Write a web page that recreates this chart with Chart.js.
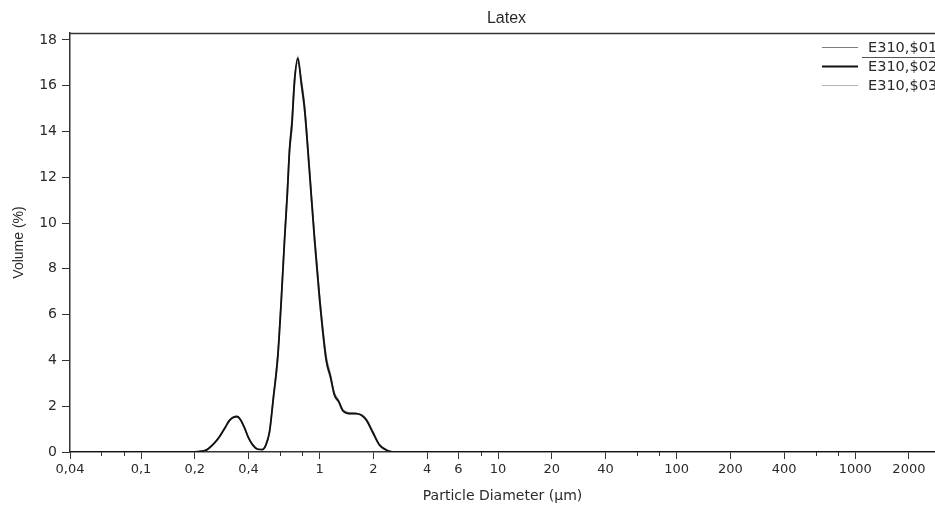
<!DOCTYPE html>
<html><head><meta charset="utf-8">
<style>html,body{margin:0;padding:0;background:#fff;overflow:hidden}#wrap{width:935px;height:505px;position:relative}</style>
<script src="https://cdn.jsdelivr.net/npm/chart.js@4/dist/chart.umd.min.js"></script>
</head><body><div id="wrap"><canvas id="c" width="935" height="505"></canvas></div>
<script>
const chartTitle = 'Latex';
const xAxisTitle = 'Particle Diameter (µm)';
const yAxisTitle = 'Volume (%)';
const seriesNames = ['E310,$01', 'E310,$02', 'E310,$03'];

const diameters = [0.04, 0.19, 0.21, 0.232, 0.255, 0.275, 0.295, 0.313, 0.33, 0.345, 0.36, 0.38, 0.40, 0.423, 0.45, 0.477, 0.50, 0.525, 0.55, 0.584, 0.61, 0.637, 0.66, 0.679, 0.70, 0.724, 0.756, 0.79, 0.824, 0.879, 0.937, 1.0, 1.09, 1.15, 1.21, 1.28, 1.35, 1.47, 1.6, 1.71, 1.83, 1.99, 2.17, 2.35, 2.5, 2.6, 2800];
const volume01 = [0, 0, 0.03, 0.1, 0.38, 0.7, 1.08, 1.4, 1.55, 1.56, 1.4, 1.02, 0.6, 0.28, 0.13, 0.12, 0.33, 0.95, 2.4, 4.4, 6.8, 9.5, 11.6, 13.4, 14.6, 16.4, 17.0, 16.3, 15.2, 12.4, 9.5, 6.9, 4.2, 3.4, 2.6, 2.25, 1.85, 1.72, 1.7, 1.6, 1.36, 0.8, 0.28, 0.09, 0.02, 0, 0];
const volume02 = [0, 0, 0.02, 0.08, 0.35, 0.67, 1.05, 1.38, 1.52, 1.55, 1.42, 1.05, 0.62, 0.3, 0.12, 0.1, 0.3, 0.9, 2.3, 4.2, 6.6, 9.3, 11.3, 13.2, 14.3, 16.2, 17.2, 16.1, 15.0, 12.2, 9.3, 6.7, 4.0, 3.3, 2.5, 2.2, 1.8, 1.68, 1.68, 1.62, 1.4, 0.85, 0.3, 0.1, 0.02, 0, 0];
const volume03 = [0, 0, 0.02, 0.07, 0.33, 0.64, 1.02, 1.35, 1.5, 1.53, 1.44, 1.08, 0.65, 0.32, 0.14, 0.11, 0.28, 0.86, 2.2, 4.1, 6.4, 9.1, 11.1, 13.0, 14.1, 16.0, 17.3, 16.0, 14.8, 12.0, 9.1, 6.5, 3.9, 3.2, 2.45, 2.15, 1.78, 1.66, 1.66, 1.64, 1.44, 0.9, 0.33, 0.12, 0.03, 0, 0];

const xTickValues = [0.04, 0.1, 0.2, 0.4, 1, 2, 4, 6, 10, 20, 40, 100, 200, 400, 1000, 2000];
const xTickLabels = ['0,04', '0,1', '0,2', '0,4', '1', '2', '4', '6', '10', '20', '40', '100', '200', '400', '1000', '2000'];
const xMinorTickValues = [0.06, 0.08, 0.6, 0.8, 8, 60, 80, 600, 800];
const yTickValues = [0, 2, 4, 6, 8, 10, 12, 14, 16, 18];

const seriesValues = [volume01, volume02, volume03];
const seriesColors = ['#7c7c7c', '#111111', '#b4b4b4'];
const seriesWidths = [1.2, 1.8, 1.2];
const seriesOrder = [1, 0, 2];

const datasets = seriesValues.map((vals, i) => ({
  label: seriesNames[i],
  data: diameters.map((d, k) => ({x: d, y: vals[k]})),
  borderColor: seriesColors[i],
  borderWidth: seriesWidths[i],
  pointRadius: 0,
  fill: false,
  cubicInterpolationMode: 'monotone',
  order: seriesOrder[i]
}));

const textColor = '#2a2a2a';
const axisColor = '#333333';

const decorPlugin = {
  id: 'decor',
  afterDraw(chart) {
    const ctx = chart.ctx;
    const ca = chart.chartArea;
    const xs = chart.scales.x;
    ctx.save();
    ctx.strokeStyle = axisColor;
    ctx.lineWidth = 1.5;
    ctx.beginPath();
    ctx.moveTo(ca.left, ca.top + 0.5);
    ctx.lineTo(chart.width, ca.top + 0.5);
    ctx.stroke();
    ctx.lineWidth = 1;
    xMinorTickValues.forEach(v => {
      const px = Math.round(xs.getPixelForValue(v)) + 0.5;
      ctx.beginPath();
      ctx.moveTo(px, ca.bottom);
      ctx.lineTo(px, ca.bottom + 4);
      ctx.stroke();
    });
    ctx.fillStyle = textColor;
    ctx.font = '16px "Liberation Sans", Arial, sans-serif';
    ctx.textAlign = 'center';
    ctx.textBaseline = 'middle';
    ctx.fillText(chartTitle, (ca.left + ca.right) / 2 + 4, 19);
    const rows = [47, 66, 85];
    ctx.font = '14.5px "DejaVu Sans", sans-serif';
    ctx.textAlign = 'left';
    chart.data.datasets.forEach((ds, i) => {
      ctx.strokeStyle = ds.borderColor;
      ctx.lineWidth = ds.borderWidth;
      ctx.beginPath();
      ctx.moveTo(822, rows[i] + 0.5);
      ctx.lineTo(858, rows[i] + 0.5);
      ctx.stroke();
      ctx.fillStyle = textColor;
      ctx.fillText(ds.label, 868, rows[i] + 1);
    });
    ctx.strokeStyle = '#555';
    ctx.lineWidth = 1;
    ctx.beginPath();
    ctx.moveTo(862, 57.5);
    ctx.lineTo(chart.width, 57.5);
    ctx.stroke();
    ctx.restore();
  }
};

new Chart(document.getElementById('c'), {
  type: 'line',
  data: {datasets},
  plugins: [decorPlugin],
  options: {
    responsive: false,
    animation: false,
    devicePixelRatio: 1,
    layout: {padding: {top: 33, right: 0, left: 0, bottom: 0}},
    plugins: {legend: {display: false}, title: {display: false}, tooltip: {enabled: false}},
    scales: {
      x: {
        type: 'logarithmic',
        min: 0.04,
        max: 2800,
        afterFit(s) { s.height = 53; },
        afterBuildTicks(s) { s.ticks = xTickValues.map(v => ({value: v})); },
        grid: {drawOnChartArea: false, drawTicks: true, tickLength: 7, color: axisColor, tickColor: axisColor},
        border: {display: true, color: axisColor, width: 1.5},
        ticks: {
          autoSkip: false, maxRotation: 0, minRotation: 0, padding: 3,
          color: textColor,
          font: {family: '"DejaVu Sans", sans-serif', size: 13},
          callback(v) { const i = xTickValues.indexOf(v); return i >= 0 ? xTickLabels[i] : ''; }
        },
        title: {display: true, text: xAxisTitle, color: textColor,
          font: {family: '"DejaVu Sans", sans-serif', size: 14}, padding: {top: 0, bottom: 0}}
      },
      y: {
        type: 'linear',
        min: 0,
        max: 18.3,
        afterFit(s) { s.width = 70; },
        afterBuildTicks(s) { s.ticks = yTickValues.map(v => ({value: v})); },
        grid: {drawOnChartArea: false, drawTicks: true, tickLength: 8, color: axisColor, tickColor: axisColor},
        border: {display: true, color: axisColor, width: 1.5},
        ticks: {
          padding: 5, color: textColor,
          font: {family: '"DejaVu Sans", sans-serif', size: 14},
          callback(v) { return String(v); }
        },
        title: {display: true, text: yAxisTitle, color: textColor,
          font: {family: '"Liberation Sans", Arial, sans-serif', size: 14}, padding: {top: 11, bottom: 0}}
      }
    }
  }
});
</script>
</body></html>
